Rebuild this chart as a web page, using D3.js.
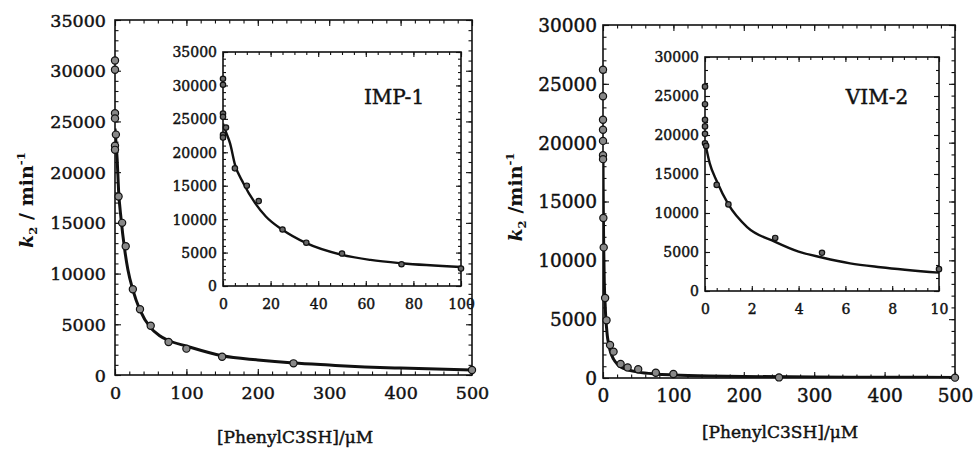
<!DOCTYPE html>
<html><head><meta charset="utf-8">
<script src="https://cdn.jsdelivr.net/npm/d3@7"></script>
<style>
html,body{margin:0;padding:0;background:#fff;}
svg{display:block;}
text{font-family:"DejaVu Serif","Liberation Serif",serif;fill:#111;}
</style></head><body>
<svg id="c" width="973" height="449"></svg>
<script>
// ---------- data ----------
const impX = [0,0,0,0,0,0,1.25,5,10,15,25,35,50,75,100,150,250,500];
const impY = [31000,30100,25800,25300,22600,22200,23700,17600,15000,12700,8450,6480,4860,3250,2600,1800,1150,490];
const impFitX = [0,1.5,3,5,8.5,13.5,18,25,35,50,62,75,100,150,200,250,300,350,400,450,500];
const impFitY = [24300,22800,21300,18200,15400,12400,10400,8400,6400,4650,3900,3400,2850,1900,1480,1180,980,800,680,580,500];

const vimX = [0,0,0,0,0,0,0.05,0.5,1,3,5,10,15,25,35,50,75,100,250,500];
const vimY = [26200,23950,21950,21100,20150,18930,18600,13600,11100,6800,4900,2800,2240,1190,900,740,450,340,50,30];
const vimFitX = [0,0.2,0.5,1,1.8,3,4,5,6.2,7.5,10,15,20,25,35,50,75,100,150,200,300,400,500];
const vimFitY = [19100,16400,14100,11100,8200,6300,5050,4300,3550,3050,2350,1600,1200,950,700,500,340,260,170,130,85,65,50];

const mainXTicks = [0,100,200,300,400,500];
const impMainYTicks = [0,5000,10000,15000,20000,25000,30000,35000];
const impInsetXTicks = [0,20,40,60,80,100];
const vimMainYTicks = [0,5000,10000,15000,20000,25000,30000];
const vimInsetXTicks = [0,2,4,6,8,10];

const yTitle1 = "/ min";
const yTitle2 = "/min";
const xTitle = "[PhenylC3SH]/\u03bcM";

// ---------- drawing ----------
const svg = d3.select("#c");
const heavy = sel=>sel.attr("stroke","#111").attr("stroke-width",0.45).attr("paint-order","stroke");

function panel(o){
  const g = svg.append("g");
  const x = d3.scaleLinear().domain(o.xd).range([o.x0,o.x1]);
  const y = d3.scaleLinear().domain(o.yd).range([o.y1,o.y0]);
  if(o.bg) g.append("rect").attr("x",o.x0).attr("y",o.y0).attr("width",o.x1-o.x0).attr("height",o.y1-o.y0).attr("fill","#fff");
  const minorX = d3.range(o.xd[0], o.xd[1]+1e-9, o.xMinor);
  const minorY = d3.range(o.yd[0], o.yd[1]+1e-9, o.yMinor);
  const axStyle = sel=>{sel.select(".domain").remove(); sel.selectAll("line").attr("stroke","#111").attr("stroke-width",1.1);};
  g.append("g").attr("transform",`translate(0,${o.y1})`).call(d3.axisBottom(x).tickValues(minorX).tickSize(-o.tmin).tickFormat("")).call(axStyle);
  g.append("g").attr("transform",`translate(0,${o.y0})`).call(d3.axisTop(x).tickValues(minorX).tickSize(-o.tmin).tickFormat("")).call(axStyle);
  g.append("g").attr("transform",`translate(${o.x0},0)`).call(d3.axisLeft(y).tickValues(minorY).tickSize(-o.tmin).tickFormat("")).call(axStyle);
  g.append("g").attr("transform",`translate(${o.x1},0)`).call(d3.axisRight(y).tickValues(minorY).tickSize(-o.tmin).tickFormat("")).call(axStyle);
  g.append("g").attr("transform",`translate(0,${o.y0})`).call(d3.axisTop(x).tickValues(o.xt).tickSize(-o.tmaj).tickFormat("")).call(axStyle);
  g.append("g").attr("transform",`translate(${o.x1},0)`).call(d3.axisRight(y).tickValues(o.yt).tickSize(-o.tmaj).tickFormat("")).call(axStyle);
  const bx = g.append("g").attr("transform",`translate(0,${o.y1})`).call(d3.axisBottom(x).tickValues(o.xt).tickSize(-o.tmaj).tickPadding(o.xpad).tickFormat(d3.format("d"))).call(axStyle);
  bx.selectAll("text").attr("font-size",o.fs).attr("fill","#111").attr("font-family","DejaVu Serif").call(heavy);
  const ly = g.append("g").attr("transform",`translate(${o.x0},0)`).call(d3.axisLeft(y).tickValues(o.yt).tickSize(-o.tmaj).tickPadding(o.ypad).tickFormat(d3.format("d"))).call(axStyle);
  ly.selectAll("text").attr("font-size",o.fs).attr("fill","#111").attr("font-family","DejaVu Serif").attr("dy","0.35em").call(heavy);
  g.append("rect").attr("x",o.x0).attr("y",o.y0).attr("width",o.x1-o.x0).attr("height",o.y1-o.y0)
    .attr("fill","none").attr("stroke","#111").attr("stroke-width",1.6);
  const clipId = "cl"+Math.round(o.x0);
  g.append("clipPath").attr("id",clipId).append("rect").attr("x",o.x0).attr("y",o.y0-2).attr("width",o.x1-o.x0+2).attr("height",o.y1-o.y0+2);
  const fit = o.fx.map((v,i)=>[v,o.fy[i]]).filter(d=>d[0]<=o.xd[1]);
  g.append("path").datum(fit).attr("clip-path",`url(#${clipId})`)
    .attr("d",d3.line().x(d=>x(d[0])).y(d=>y(d[1])).curve(d3.curveMonotoneX))
    .attr("fill","none").attr("stroke","#111").attr("stroke-width",o.lw).attr("stroke-linejoin","round");
  const pts = o.px.map((v,i)=>[v,o.py[i]]).filter(d=>d[0]<=o.xd[1]);
  g.append("g").selectAll("circle").data(pts).join("circle")
    .attr("cx",d=>x(d[0])).attr("cy",d=>y(d[1])).attr("r",o.r)
    .attr("fill",o.pfill).attr("stroke","#111").attr("stroke-width",1.2);
  return {x,y,g};
}

panel({x0:115,x1:472,y0:20,y1:375,xd:[0,500],yd:[0,35000],xt:mainXTicks,yt:impMainYTicks,
  xMinor:20,yMinor:1000,tmaj:6,tmin:3.5,fs:17.5,xpad:12,ypad:9,
  fx:impFitX,fy:impFitY,px:impX,py:impY,lw:3,r:3.6,pfill:"#888"});
const pi = panel({x0:223,x1:461,y0:52,y1:286,xd:[0,100],yd:[0,35000],xt:impInsetXTicks,yt:impMainYTicks,
  xMinor:5,yMinor:1000,tmaj:5,tmin:3,fs:14,xpad:13,ypad:6,bg:true,
  fx:impFitX,fy:impFitY,px:impX,py:impY,lw:2.4,r:2.7,pfill:"#666"});
pi.g.append("text").attr("x",394).attr("y",104).attr("text-anchor","middle").attr("font-size",20).call(heavy).text("IMP-1");

panel({x0:603,x1:955,y0:25,y1:378,xd:[0,500],yd:[0,30000],xt:mainXTicks,yt:vimMainYTicks,
  xMinor:20,yMinor:1000,tmaj:6,tmin:3.5,fs:18.5,xpad:11,ypad:6,
  fx:vimFitX,fy:vimFitY,px:vimX,py:vimY,lw:3,r:3.6,pfill:"#888"});
const pv = panel({x0:705,x1:939,y0:57,y1:291,xd:[0,10],yd:[0,30000],xt:vimInsetXTicks,yt:vimMainYTicks,
  xMinor:0.5,yMinor:5000/3,tmaj:5,tmin:3,fs:14,xpad:13,ypad:6,bg:true,
  fx:vimFitX,fy:vimFitY,px:vimX,py:vimY,lw:2.4,r:2.7,pfill:"#666"});
pv.g.append("text").attr("x",877).attr("y",104).attr("text-anchor","middle").attr("font-size",20).call(heavy).text("VIM-2");

function yTitle(cx,cy,rest,fs){
  const t = svg.append("text").attr("transform",`translate(${cx},${cy}) rotate(-90)`)
    .attr("text-anchor","middle").attr("font-size",fs).attr("font-weight","bold");
  t.append("tspan").attr("font-style","italic").text("k");
  t.append("tspan").attr("font-size",fs*0.62).attr("dy",4).text("2");
  t.append("tspan").attr("dy",-4).text(" "+rest);
  t.append("tspan").attr("font-size",fs*0.62).attr("dy",-8).text("-1");
}
yTitle(33,200,yTitle1,19);
yTitle(522,197,yTitle2,19);
svg.append("text").attr("x",295).attr("y",443).attr("text-anchor","middle").attr("font-size",17).call(heavy).text(xTitle);
svg.append("text").attr("x",780).attr("y",438).attr("text-anchor","middle").attr("font-size",17).call(heavy).text(xTitle);
</script>
</body></html>
